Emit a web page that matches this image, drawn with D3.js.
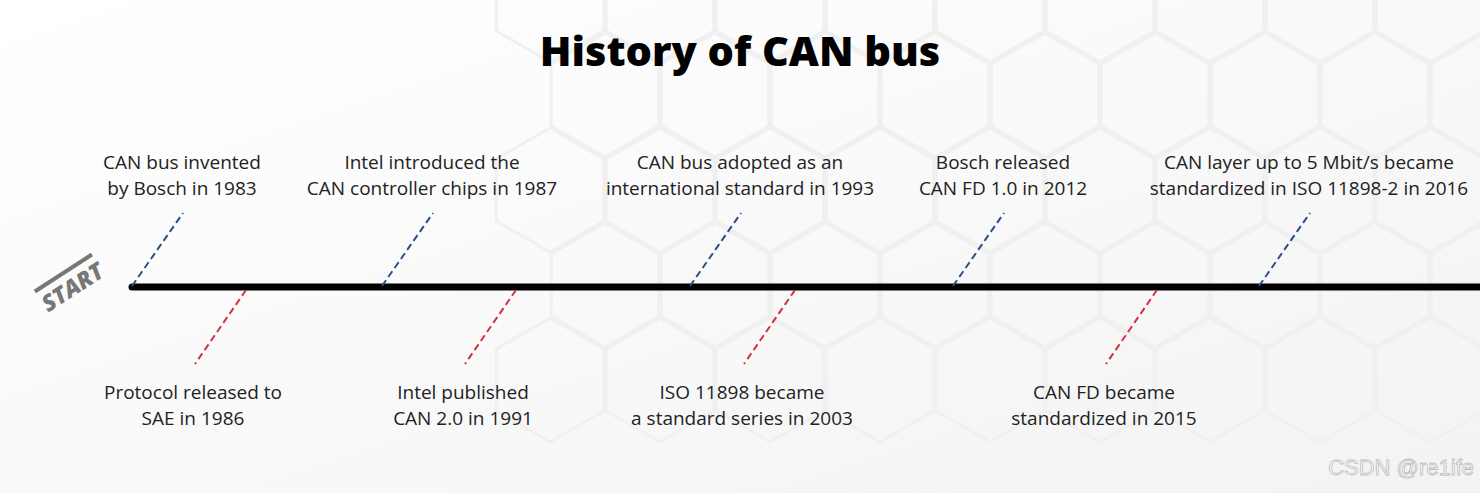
<!DOCTYPE html>
<html><head><meta charset="utf-8">
<script src="https://cdn.jsdelivr.net/npm/d3@7"></script>
<style>body{margin:0;background:#fff}svg{display:block;font-family:"Open Sans",sans-serif}</style>
</head><body><svg id="c" width="1480" height="493"></svg>
<script>
// events, in time order
const years = [1983, 1986, 1987, 1991, 1993, 2003, 2012, 2015, 2016];
const sides = ['top','bottom','top','bottom','top','bottom','top','bottom','top'];
const labels = [
  ['CAN bus invented', 'by Bosch in 1983'],
  ['Protocol released to', 'SAE in 1986'],
  ['Intel introduced the', 'CAN controller chips in 1987'],
  ['Intel published', 'CAN 2.0 in 1991'],
  ['CAN bus adopted as an', 'international standard in 1993'],
  ['ISO 11898 became', 'a standard series in 2003'],
  ['Bosch released', 'CAN FD 1.0 in 2012'],
  ['CAN FD became', 'standardized in 2015'],
  ['CAN layer up to 5 Mbit/s became', 'standardized in ISO 11898-2 in 2016']
];

const svg = d3.select('#c');
const W = 1480, lineY = 287;

// piecewise time scale (the timeline is not to scale)
const x = d3.scaleLinear()
  .domain(years)
  .range([132, 246, 382, 516, 690, 795, 953, 1157, 1259]);

// faint background gradient
const defs = svg.append('defs');
const g = defs.append('linearGradient').attr('id', 'bg').attr('x1', 0).attr('x2', 1).attr('y1', 0).attr('y2', 1);
g.append('stop').attr('offset', 0).attr('stop-color', '#ffffff');
g.append('stop').attr('offset', 1).attr('stop-color', '#f3f3f3');
svg.append('rect').attr('width', W).attr('height', 493).attr('fill', 'url(#bg)');

// soft hexagons
const hex = (cx, cy, r) => d3.range(6).map(i => {
  const a = Math.PI / 3 * i + Math.PI / 6;
  return [cx + r * Math.cos(a), cy + r * Math.sin(a)];
});
const hexCenters = [];
for (let row = -1; row < 5; row++) for (let col = 5; col < 14; col++)
  hexCenters.push([col * 110 + (row % 2 ? 55 : 0), row * 95]);
svg.append('g').selectAll('polygon').data(hexCenters).join('polygon')
  .attr('points', d => hex(d[0], d[1], 62).join(' '))
  .attr('fill', 'none').attr('stroke', '#f0f0f0').attr('stroke-width', 3);

// title
svg.append('text').attr('x', 740).attr('y', 66).attr('text-anchor', 'middle')
  .attr('font-size', 41.5).attr('font-weight', 800).attr('fill', '#000')
  .text('History of CAN bus');

// main line
svg.append('line').attr('x1', x(1983)).attr('x2', W).attr('y1', lineY).attr('y2', lineY)
  .attr('stroke', '#000').attr('stroke-width', 7).attr('stroke-linecap', 'round');

// leaders
const ev = years.map((y, i) => ({ y, side: sides[i], lines: labels[i] }));
svg.append('g').selectAll('line').data(ev).join('line')
  .attr('x1', d => x(d.y))
  .attr('y1', d => d.side === 'top' ? lineY - 1 : lineY + 3)
  .attr('x2', d => d.side === 'top' ? x(d.y) + 51 : x(d.y) - 51)
  .attr('y2', d => d.side === 'top' ? 213 : 364)
  .attr('stroke', d => d.side === 'top' ? '#2b4f86' : '#d0343f')
  .attr('stroke-width', 2).attr('stroke-dasharray', '7,4');

// labels
const lab = svg.append('g').selectAll('text').data(ev).join('text')
  .attr('text-anchor', 'middle').attr('font-size', 19).attr('fill', '#222');
lab.each(function (d) {
  const cx = d.side === 'top' ? x(d.y) + 50 : x(d.y) - 53;
  const y0 = d.side === 'top' ? 169 : 399;
  d3.select(this).selectAll('tspan').data(d.lines).join('tspan')
    .attr('x', cx).attr('y', (t, i) => y0 + i * 26).text(t => t);
});

// START stamp
const st = svg.append('g').attr('transform', 'translate(77,294) rotate(-33)').attr('fill', '#777');
st.append('rect').attr('x', -34).attr('y', -27).attr('width', 68).attr('height', 4);
st.append('text').attr('text-anchor', 'middle').attr('y', 0).attr('font-size', 23)
  .attr('font-weight', 800).attr('font-style', 'italic').text('START');

// watermark
svg.append('text').attr('x', 1474).attr('y', 475).attr('text-anchor', 'end')
  .attr('font-size', 22).attr('fill', '#fff').attr('stroke', '#bbb').attr('stroke-width', 0.8)
  .attr('font-family', 'Liberation Sans, sans-serif').text('CSDN @re1ife');
</script></body></html>
